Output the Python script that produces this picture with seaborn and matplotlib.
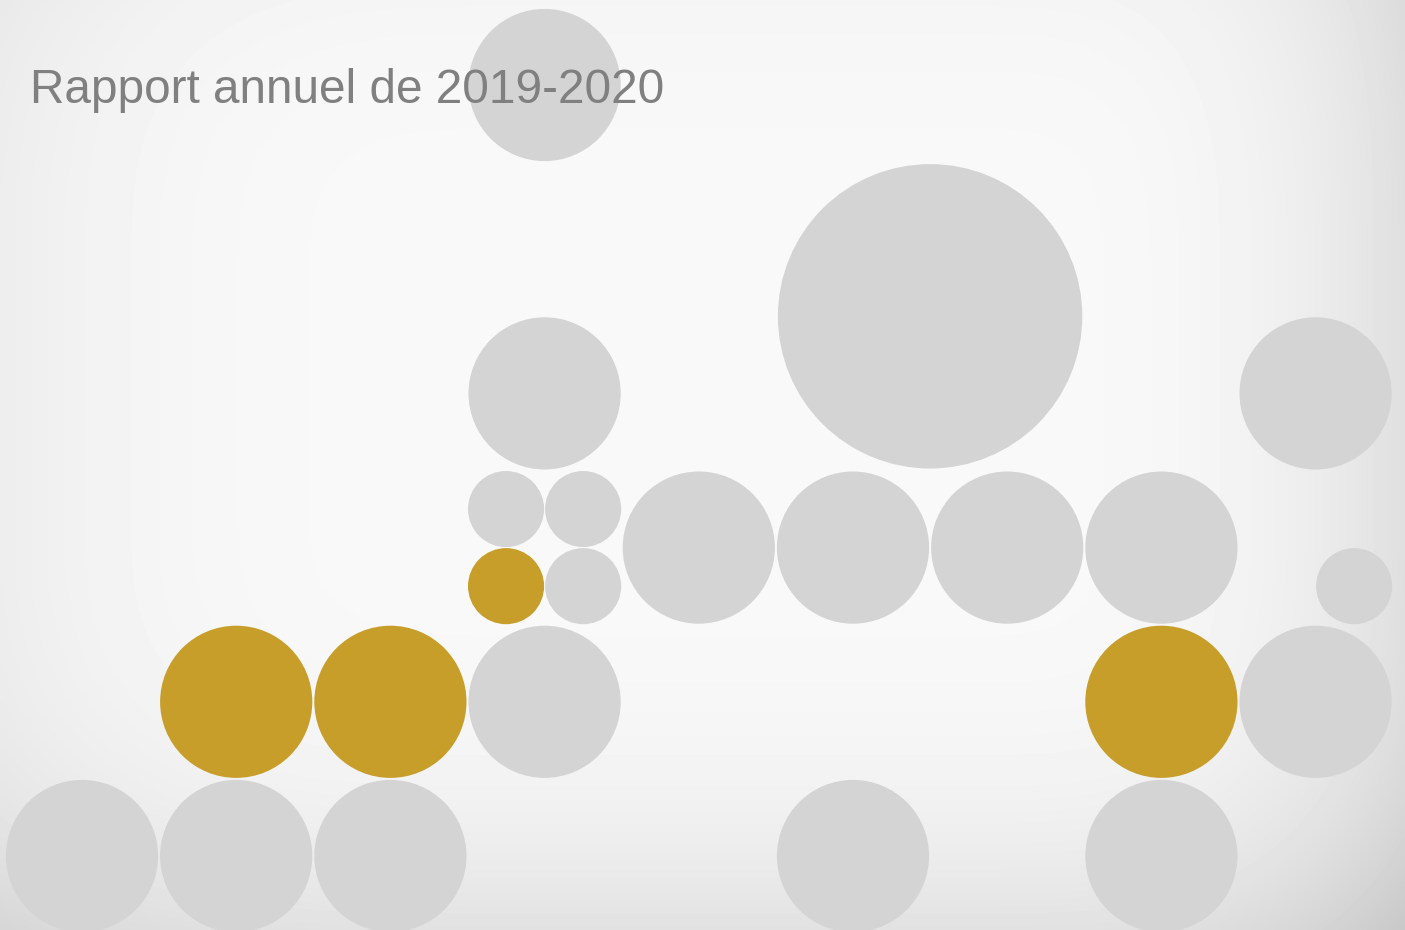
#!/usr/bin/env python
"""Cover page of the 2019-2020 annual report: grid of dots."""

import numpy as np
import pandas as pd
import matplotlib
matplotlib.use("Agg")
import matplotlib.pyplot as plt
import seaborn as sns

# dot grid (column, row in grid units), relative diameter, group
col = [3, 5.5, 3, 8, 2.75, 3.25, 4, 5, 6, 7, 2.75, 3.25, 8.25,
       1, 2, 3, 7, 8, 0, 1, 2, 5, 7]
row = [0, 1.5, 2, 2, 2.75, 2.75, 3, 3, 3, 3, 3.25, 3.25, 3.25,
       4, 4, 4, 4, 4, 5, 5, 5, 5, 5]
diam = [1, 2, 1, 1, 0.5, 0.5, 1, 1, 1, 1, 0.5, 0.5, 0.5,
        1, 1, 1, 1, 1, 1, 1, 1, 1, 1]
group = ["grey", "grey", "grey", "grey", "grey", "grey", "grey", "grey", "grey", "grey",
         "gold", "grey", "grey",
         "gold", "gold", "grey", "gold", "grey",
         "grey", "grey", "grey", "grey", "grey"]

title = "Rapport annuel de 2019-2020"

df = pd.DataFrame({"col": col, "row": row, "diam": diam, "group": group})

palette = {"grey": "#d4d4d4", "gold": "#c89e2b"}

W, H, DPI = 1405, 930, 100
step = 154.2          # pixels per grid unit
x0, y0 = 82, 85       # pixel position of grid origin

sns.set_theme(style="white")
plt.rcParams["font.family"] = ["Liberation Sans", "DejaVu Sans"]

fig = plt.figure(figsize=(W / DPI, H / DPI), dpi=DPI)
ax = fig.add_axes([0, 0, 1, 1])

xlim = (-x0 / step, (W - x0) / step)
ylim = ((H - y0) / step, -y0 / step)

# soft grey fade towards the right, bottom and left edges
gx, gy = np.meshgrid(np.linspace(0, 1, 400), np.linspace(0, 1, 300))
right = np.clip((gx - 0.70) / 0.30, 0, 1) ** 3
bottom = np.clip((gy - 0.55) / 0.45, 0, 1) ** 3
left = np.clip((0.35 - gx) / 0.35, 0, 1) ** 3
top = np.clip((0.3 - gy) / 0.3, 0, 1) ** 3
bg = 0.975 - 0.10 * right - 0.09 * bottom - 0.045 * left - 0.015 * top
ax.imshow(bg, cmap="gray", vmin=0, vmax=1, extent=(xlim[0], xlim[1], ylim[0], ylim[1]),
          aspect="auto", interpolation="bicubic", zorder=0)

px_per_pt = DPI / 72
sizes = (df["diam"] * (step - 2) / px_per_pt) ** 2
sns.scatterplot(data=df, x="col", y="row", hue="group", palette=palette,
                s=sizes, linewidth=0, legend=False, ax=ax, zorder=2)

ax.text(30 / step + xlim[0], 103 / step + ylim[1], title, fontsize=34.4,
        color="#808080", va="baseline", ha="left", zorder=3)

ax.set_xlim(*xlim)
ax.set_ylim(*ylim)
ax.axis("off")

fig.savefig("out.png", dpi=DPI)
